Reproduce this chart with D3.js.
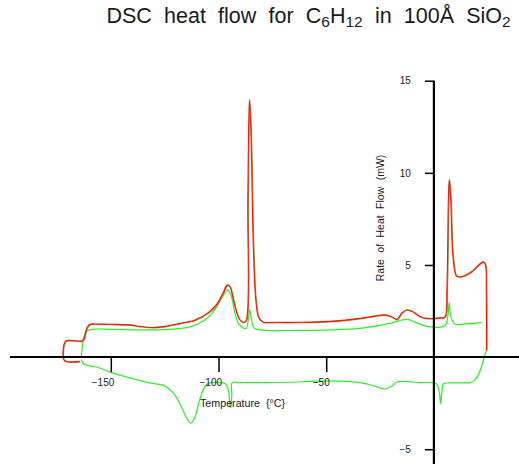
<!DOCTYPE html>
<html>
<head>
<meta charset="utf-8">
<script src="https://cdn.jsdelivr.net/npm/d3@7"></script>
<style>
  body { margin: 0; background: #fff; }
  text { font-family: "Liberation Sans", Arial, sans-serif; fill: #1a1a1a; }
</style>
</head>
<body>
<div id="chart"></div>
<script>
// Data: [temperature (°C), heat flow (mW)]

const redHeating = [
  [-164.4,-0.23],[-170.9,-0.23],[-172.0,-0.10],[-171.8,0.66],[-170.9,0.88],[-169.0,0.91],
  [-163.4,0.88],[-162.5,0.99],[-161.1,1.59],[-159.7,1.78],[-157.4,1.80],[-150.4,1.78],
  [-141.1,1.75],[-136.5,1.67],[-130.5,1.61],[-124.9,1.67],[-117.9,1.83],[-110.9,2.02],
  [-104.9,2.40],[-100.7,2.89],[-97.9,3.49],[-95.9,3.92],[-94.7,3.82],[-93.3,3.22],
  [-91.5,2.40],[-90.1,2.02],[-88.2,1.89],[-87.1,2.02],[-86.4,8.54],[-85.7,13.98],
  [-85.0,12.35],[-83.8,5.83],[-82.7,3.11],[-81.3,2.13],[-79.4,1.91],[-73.9,1.89],
  [-62.3,1.89],[-48.3,1.94],[-34.4,2.10],[-27.4,2.24],[-22.8,2.29],[-19.5,2.18],
  [-17.2,2.05],[-14.9,2.40],[-12.6,2.57],[-9.8,2.46],[-6.5,2.21],[-3.3,2.10],
  [2.7,2.13],[5.1,2.18],[6.0,3.65],[6.7,8.54],[7.1,9.63],[7.8,8.54],[8.8,5.53],
  [10.4,4.41],[12.0,4.36],[16.7,4.58],[22.9,5.17],[23.9,5.01],[24.3,3.65],[24.4,0.39]
];

const greenHeating = [
  [-163.7,0.01],[-163.5,0.28],[-162.5,1.10],[-161.1,1.42],[-158.8,1.51],[-150.4,1.51],
  [-136.5,1.48],[-122.6,1.51],[-113.3,1.64],[-106.4,2.02],[-101.7,2.57],[-98.4,3.22],
  [-95.9,3.65],[-94.3,3.38],[-92.4,2.40],[-90.6,1.80],[-88.7,1.59],[-87.1,1.56],
  [-86.2,2.02],[-85.5,2.57],[-84.8,2.13],[-83.6,1.59],[-80.8,1.48],[-62.3,1.45],
  [-48.3,1.48],[-34.4,1.56],[-20.5,1.83],[-12.6,2.05],[-8.0,1.86],[-3.3,1.67],
  [5.1,1.70],[6.5,2.24],[7.1,2.95],[7.8,2.24],[9.7,1.80],[14.3,1.80],[22.2,1.89]
];

const greenCooling = [
  [-163.7,-0.15],[-162.5,-0.37],[-155.1,-0.59],[-150.0,-0.83],[-141.1,-1.13],[-131.8,-1.40],
  [-126.3,-1.51],[-123.5,-1.67],[-120.3,-2.05],[-117.0,-2.76],[-114.3,-3.41],[-112.9,-3.58],
  [-111.1,-3.30],[-108.8,-2.33],[-106.4,-1.62],[-104.1,-1.40],[-99.5,-1.38],[-96.7,-1.46],
  [-95.3,-1.89],[-94.5,-2.75],[-93.8,-2.05],[-93.7,-1.40],[-90.1,-1.38],[-80.8,-1.38],
  [-62.3,-1.35],[-50.0,-1.29],[-34.4,-1.38],[-27.4,-1.57],[-22.8,-1.73],[-19.5,-1.57],
  [-17.2,-1.35],[-6.5,-1.38],[-0.5,-1.39],[1.3,-1.46],[2.5,-1.89],[3.1,-2.52],[3.7,-1.89],
  [4.4,-1.46],[7.4,-1.40],[16.7,-1.38],[18.5,-1.29],[20.4,-1.02],[22.2,-0.48],[23.6,0.12],[24.4,0.39]
];

const xMajorTicks = [-150, -100, -50];                                          // Labelled temperature ticks
const xMinorTicks = d3.range(-190, 31, 10);                                     // Every 10 °C
const yMajorTicks = [15, 10, 5, -5];                                            // Labelled heat flow ticks
const yMinorTicks = d3.range(-5, 16, 1);                                        // Every 1 mW

// Canvas and scales

const width = 519, height = 464;

const svg = d3.select('#chart').append('svg')
    .attr('width', width)
    .attr('height', height);

const x = d3.scaleLinear().domain([-196.8, 39.5]).range([10, 519]);
const y = d3.scaleLinear().domain([-5.8, 15]).range([464, 80.7]);

// Title with subscripts

const title = svg.append('text')
    .attr('x', 106.5)
    .attr('y', 22.5)
    .style('font-size', '21.5px')
    .style('word-spacing', '6.2px');
title.append('tspan').text('DSC heat flow for C');
title.append('tspan').attr('dy', 4).style('font-size', '15.5px').text('6');
title.append('tspan').attr('dy', -4).text('H');
title.append('tspan').attr('dy', 4).style('font-size', '15.5px').text('12');
title.append('tspan').attr('dy', -4).text(' in 100Å SiO');
title.append('tspan').attr('dy', 4).style('font-size', '15.5px').text('2');

// Curves

const line = d3.line()
    .x(d => x(d[0]))
    .y(d => y(d[1]))
    .curve(d3.curveCatmullRom.alpha(0.5));

const curves = svg.append('g').attr('fill', 'none');

curves.append('path')                                                           // Cooling run
    .attr('d', line(greenCooling))
    .attr('stroke', '#2af02a')
    .attr('stroke-width', 1.2);

curves.append('path')                                                           // Heating run, second trace
    .attr('d', line(greenHeating))
    .attr('stroke', '#2af02a')
    .attr('stroke-width', 1.2);

curves.append('path')                                                           // Brown shadow under the red trace
    .attr('d', line(redHeating))
    .attr('transform', 'translate(0.6,0.5)')
    .attr('stroke', '#b97a3c')
    .attr('stroke-width', 1.1);

curves.append('path')                                                           // Heating run, red trace
    .attr('d', line(redHeating))
    .attr('stroke', '#f01800')
    .attr('stroke-width', 1.1);

// Axes

const xAxisG = svg.append('g').attr('transform', 'translate(0,' + y(0) + ')');
xAxisG.call(d3.axisBottom(x).tickValues(xMinorTicks).tickSize(6).tickFormat(''));
xAxisG.call(d3.axisBottom(x).tickValues(xMajorTicks).tickSize(15).tickPadding(7));
xAxisG.selectAll('.domain').remove();
xAxisG.selectAll('text')
    .attr('text-anchor', 'end')
    .attr('x', 3)
    .style('font-size', '10px');

const yAxisG = svg.append('g').attr('transform', 'translate(' + x(0) + ',0)');
yAxisG.call(d3.axisLeft(y).tickValues(yMinorTicks).tickSize(4.5).tickFormat(''));
yAxisG.call(d3.axisLeft(y).tickValues(yMajorTicks).tickSize(9).tickPadding(14));
yAxisG.selectAll('.domain').remove();
yAxisG.selectAll('text').style('font-size', '10px');

svg.selectAll('.tick line')
    .attr('stroke', '#000')
    .attr('stroke-width', 1.5);

svg.append('line')                                                              // Temperature axis line
    .attr('x1', 10).attr('x2', width)
    .attr('y1', y(0)).attr('y2', y(0))
    .attr('stroke', '#000').attr('stroke-width', 2);

svg.append('line')                                                              // Heat flow axis line
    .attr('x1', x(0)).attr('x2', x(0))
    .attr('y1', y(15)).attr('y2', height)
    .attr('stroke', '#000').attr('stroke-width', 2.2);

// Axis titles

svg.append('text')
    .attr('x', 200)
    .attr('y', 407)
    .style('font-size', '10.7px')
    .style('word-spacing', '3px')
    .text('Temperature {°C}');

svg.append('text')
    .attr('transform', 'translate(384,218) rotate(-90)')
    .attr('text-anchor', 'middle')
    .style('font-size', '10.5px')
    .style('word-spacing', '3.5px')
    .text('Rate of Heat Flow (mW)');
</script>
</body>
</html>
